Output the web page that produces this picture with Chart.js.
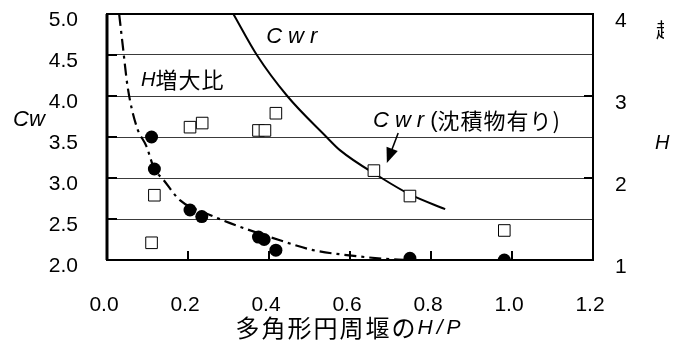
<!DOCTYPE html>
<html>
<head>
<meta charset="utf-8">
<script src="https://cdn.jsdelivr.net/npm/chart.js@4.4.1/dist/chart.umd.min.js"></script>
<style>
  html, body { margin: 0; padding: 0; background: #fff; }
  #wrap { width: 683px; height: 345px; }
</style>
</head>
<body>
<div id="wrap"><canvas id="chart" width="683" height="345"></canvas></div>
<script>
// H/P of the polygonal weir vs Cw (left) and H increase ratio (right)
const xTicks = [0.0, 0.2, 0.4, 0.6, 0.8, 1.0, 1.2]
const cwTicks = [2.0, 2.5, 3.0, 3.5, 4.0, 4.5, 5.0]
const ratioTicks = [1, 2, 3, 4]

// open squares: Cwr with sediment (left axis)
const sedX = [0.110, 0.117, 0.205, 0.235, 0.374, 0.390, 0.417, 0.659, 0.748, 0.981]
const sedCw = [2.21, 2.79, 3.62, 3.67, 3.58, 3.58, 3.79, 3.09, 2.78, 2.36]

// filled circles: H increase ratio (right axis)
const ratioX = [0.110, 0.117, 0.205, 0.234, 0.374, 0.388, 0.417, 0.748, 0.981]
const ratioVal = [2.50, 2.11, 1.61, 1.53, 1.28, 1.25, 1.12, 1.02, 1.00]

// solid curve Cwr (left axis)
const cwrX = [0.312, 0.370, 0.445, 0.542, 0.575, 0.678, 0.748, 0.835]
const cwrY = [5.00, 4.50, 4.00, 3.50, 3.34, 3.00, 2.80, 2.62]

// dash-dot curve: H increase ratio (right axis)
const hCurveX = [0.030, 0.039, 0.051, 0.073, 0.098, 0.116, 0.139, 0.180, 0.254, 0.304, 0.427, 0.509, 0.592, 0.699, 0.750]
const hCurveY = [4.00, 3.61, 3.11, 2.63, 2.38, 2.12, 1.98, 1.73, 1.55, 1.45, 1.24, 1.12, 1.06, 1.01, 1.00]

const LATIN = "'Liberation Sans', Arial, sans-serif"
const CJK = "'Noto Sans CJK JP', 'Noto Sans', sans-serif"

const zip = (xs, ys) => xs.map((x, i) => ({ x: x, y: ys[i] }))

// draw a run of text pieces [text, font, spacing] from x
function drawRun(ctx, pieces, x, y) {
    let cx = x
    pieces.forEach(p => {
        ctx.font = p[1]
        ctx.letterSpacing = (p[2] || 0) + "px"
        ctx.fillText(p[0], cx, y)
        cx += ctx.measureText(p[0]).width
    })
    ctx.letterSpacing = "0px"
    return cx - x
}

// keep the plot box where the source has it
function noPad(s) {
    s.paddingTop = 0
    s.paddingBottom = 0
    s.paddingLeft = 0
    s.paddingRight = 0
}

const framePlugin = {
    id: "frame",
    beforeDatasetsDraw(chart) {
        const ctx = chart.ctx
        const a = chart.chartArea
        const sx = chart.scales.x, sy = chart.scales.y, sr = chart.scales.y2
        ctx.save()
        ctx.strokeStyle = "#000"
        // inner tick marks
        ctx.lineWidth = 2
        ctx.beginPath()
        cwTicks.forEach(v => {
            const y = sy.getPixelForValue(v)
            ctx.moveTo(a.left, y); ctx.lineTo(a.left + 10, y)
        })
        ratioTicks.forEach(v => {
            const y = sr.getPixelForValue(v)
            ctx.moveTo(a.right, y); ctx.lineTo(a.right - 9, y)
        })
        xTicks.forEach(v => {
            const x = sx.getPixelForValue(v)
            ctx.moveTo(x, a.bottom); ctx.lineTo(x, a.bottom - 9)
        })
        ctx.stroke()
        // box
        ctx.lineWidth = 2
        ctx.strokeRect(a.left, a.top, a.right - a.left, a.bottom - a.top)
        ctx.lineWidth = 3
        ctx.beginPath()
        ctx.moveTo(a.left, a.top); ctx.lineTo(a.left, a.bottom)
        ctx.stroke()
        ctx.restore()
    },
    afterDraw(chart) {
        const ctx = chart.ctx
        const a = chart.chartArea
        const sx = chart.scales.x, sy = chart.scales.y
        const X = v => sx.getPixelForValue(v)
        const Y = v => sy.getPixelForValue(v)
        ctx.save()
        ctx.fillStyle = "#000"
        ctx.textBaseline = "middle"
        ctx.textAlign = "left"

        // curve labels
        drawRun(ctx, [["Cwr", "italic 22px " + LATIN, 6]], X(0.393), Y(4.72))
        drawRun(ctx, [["H", "italic 20px " + LATIN, 0], ["増大比", "22px " + CJK, 1]], X(0.084), Y(4.195))
        drawRun(ctx, [["Cwr", "italic 22px " + LATIN, 6], ["(", "22px " + LATIN, 0], ["沈積物有り)", "22px " + CJK, 1]], X(0.657), Y(3.695))

        // arrow to the sediment squares
        const x0 = X(0.719), y0 = Y(3.55), x1 = X(0.691), y1 = Y(3.183)
        const ang = Math.atan2(y1 - y0, x1 - x0)
        ctx.strokeStyle = "#000"
        ctx.lineWidth = 1.5
        ctx.beginPath()
        ctx.moveTo(x0, y0)
        ctx.lineTo(x1 - 10 * Math.cos(ang), y1 - 10 * Math.sin(ang))
        ctx.stroke()
        ctx.beginPath()
        ctx.moveTo(x1, y1)
        ctx.lineTo(x1 - 15 * Math.cos(ang) + 6 * Math.sin(ang), y1 - 15 * Math.sin(ang) - 6 * Math.cos(ang))
        ctx.lineTo(x1 - 15 * Math.cos(ang) - 6 * Math.sin(ang), y1 - 15 * Math.sin(ang) + 6 * Math.cos(ang))
        ctx.closePath()
        ctx.fill()

        // left axis title
        drawRun(ctx, [["Cw", "italic 22px " + LATIN, 0]], a.left - 94, Y(3.71))

        // x axis title
        ctx.font = "24px " + CJK
        ctx.letterSpacing = "2px"
        const w1 = ctx.measureText("多角形円周堰の").width
        ctx.font = "italic 21px " + LATIN
        ctx.letterSpacing = "4px"
        const w2 = ctx.measureText("H/P").width
        const tx = (a.left + a.right) / 2 - (w1 + w2) / 2
        drawRun(ctx, [["多角形円周堰の", "24px " + CJK, 2], ["H/P", "italic 21px " + LATIN, 4]], tx, 328)

        // right axis title (clipped in the source)
        ctx.save()
        ctx.beginPath()
        ctx.rect(a.right + 63, 0, 8, chart.height)
        ctx.clip()
        drawRun(ctx, [["越", "20px " + CJK, 0]], a.right + 63, 30)
        ctx.restore()
        drawRun(ctx, [["H", "italic 20px " + LATIN, 0]], a.right + 62, 143)
        ctx.restore()
    }
}

new Chart(document.getElementById("chart"), {
    type: "scatter",
    data: {
        datasets: [
            {
                label: "H増大比",
                data: zip(ratioX, ratioVal),
                yAxisID: "y2",
                pointStyle: "circle",
                pointRadius: 6.5,
                backgroundColor: "#000",
                borderColor: "#000",
                borderWidth: 0
            },
            {
                label: "Cwr(沈積物有り)",
                data: zip(sedX, sedCw),
                yAxisID: "y",
                pointStyle: "rect",
                pointRadius: 8.2,
                backgroundColor: "#fff",
                borderColor: "#000",
                borderWidth: 1
            },
            {
                label: "Cwr",
                data: zip(cwrX, cwrY),
                yAxisID: "y",
                showLine: true,
                cubicInterpolationMode: "monotone",
                pointRadius: 0,
                borderColor: "#000",
                borderWidth: 2,
                fill: false
            },
            {
                label: "H増大比 曲線",
                data: zip(hCurveX, hCurveY),
                yAxisID: "y2",
                showLine: true,
                cubicInterpolationMode: "monotone",
                pointRadius: 0,
                borderColor: "#000",
                borderWidth: 2.2,
                borderDash: [12, 5, 3, 5],
                fill: false
            }
        ]
    },
    options: {
        responsive: false,
        animation: false,
        devicePixelRatio: 1,
        layout: { padding: { top: 14, left: 0, right: 0, bottom: 0 } },
        plugins: {
            legend: { display: false },
            tooltip: { enabled: false }
        },
        scales: {
            x: {
                type: "linear",
                min: 0,
                max: 1.2,
                afterBuildTicks: s => { s.ticks = xTicks.map(v => ({ value: v })) },
                afterFit: s => { s.height = 85; noPad(s) },
                grid: { display: false, drawTicks: false },
                border: { display: false },
                ticks: {
                    padding: 33,
                    labelOffset: -3,
                    color: "#000",
                    font: { family: LATIN, size: 21 },
                    callback: v => v.toFixed(1)
                }
            },
            y: {
                position: "left",
                min: 2,
                max: 5,
                afterBuildTicks: s => { s.ticks = cwTicks.map(v => ({ value: v })) },
                afterFit: s => { s.width = 107; noPad(s) },
                grid: { color: "#3a3a3a", lineWidth: 1, drawTicks: false },
                border: { display: false },
                ticks: {
                    padding: 29,
                    labelOffset: 6,
                    color: "#000",
                    font: { family: LATIN, size: 21 },
                    callback: v => v.toFixed(1)
                }
            },
            y2: {
                position: "right",
                min: 1,
                max: 4,
                afterBuildTicks: s => { s.ticks = ratioTicks.map(v => ({ value: v })) },
                afterFit: s => { s.width = 90; noPad(s) },
                grid: { display: false, drawTicks: false },
                border: { display: false },
                ticks: {
                    padding: 22,
                    labelOffset: 7,
                    color: "#000",
                    font: { family: LATIN, size: 21 },
                    callback: v => String(v)
                }
            }
        }
    },
    plugins: [framePlugin]
})
</script>
</body>
</html>
